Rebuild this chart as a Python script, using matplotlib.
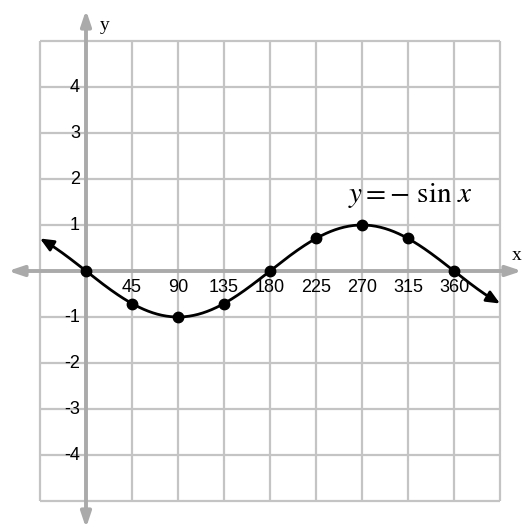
import matplotlib.pyplot as plt
import numpy as np

# data: y = -sin x, marked every 45 degrees
point_deg = [0, 45, 90, 135, 180, 225, 270, 315, 360]
point_y = [0, -0.707, -1, -0.707, 0, 0.707, 1, 0.707, 0]
x_tick_labels = ['45', '90', '135', '180', '225', '270', '315', '360']
y_tick_vals = [4, 3, 2, 1, -1, -2, -3, -4]

grid_col = '#c4c4c4'
axis_col = '#aaaaaa'

fig = plt.figure(figsize=(5.26, 5.32), dpi=100)
ax = fig.add_axes([0, 0, 1, 1])
# pixel mapping: 46 px per grid cell, cell = 45 deg in x, 1 unit in y
deg_per_px = 45 / 46
ax.set_xlim(-45 - 40 * deg_per_px, -45 + 486 * deg_per_px)
ax.set_ylim(-(532 - 271) / 46, 271 / 46)
ax.axis('off')

# grid
gx = np.arange(-45, 406, 45)
gy = np.arange(-5, 6, 1)
ax.vlines(gx, -5, 5, color=grid_col, lw=1.6, zorder=1)
ax.hlines(gy, -45, 405, color=grid_col, lw=1.6, zorder=1)

# axes with arrows
x0, x1 = ax.get_xlim()
y0, y1 = ax.get_ylim()
akw = dict(arrowstyle='<|-|>,head_length=0.9,head_width=0.3', color=axis_col, lw=2.8,
           shrinkA=0, shrinkB=0)
ax.annotate('', xy=(x0 + 8 * deg_per_px, 0), xytext=(x0 + 522 * deg_per_px, 0), arrowprops=akw, zorder=2)
ax.annotate('', xy=(0, y1 - 10 / 46), xytext=(0, y0 + 4 / 46), arrowprops=akw, zorder=2)

# tick labels (under the curve)
for d, lab in zip(point_deg[1:], x_tick_labels):
    ax.text(d, -0.35, lab, ha='center', va='center', fontsize=13,
            family='Liberation Sans', zorder=2.5)
for v in y_tick_vals:
    ax.text(-6, v, str(v), ha='right', va='center', fontsize=13,
            family='Liberation Sans', zorder=2.5)

# curve
xs = np.linspace(-41, 401, 400)
ax.plot(xs, -np.sin(np.radians(xs)), color='black', lw=2, zorder=3)
ckw = dict(arrowstyle='-|>,head_length=0.8,head_width=0.35', color='black', lw=2,
           shrinkA=0, shrinkB=0)
for a, b in [(-38, -45), (398, 405)]:
    ax.annotate('', xy=(b, -np.sin(np.radians(b))), xytext=(a, -np.sin(np.radians(a))),
                arrowprops=ckw, zorder=3)
ax.plot(point_deg, point_y, 'o', color='black', ms=7.5, zorder=4)

ax.text(x0 + 517 * deg_per_px, 0.33, 'x', ha='center', va='center', fontsize=14,
        family='Liberation Serif')
ax.text(18, y1 - 25 / 46, 'y', ha='center', va='center', fontsize=14,
        family='Liberation Serif')
ax.text(317, 1.64, r'$y = -\ \mathrm{sin}\ x$', ha='center', va='center', fontsize=21,
        math_fontfamily='stix')

fig.savefig('out.png', dpi=100)
